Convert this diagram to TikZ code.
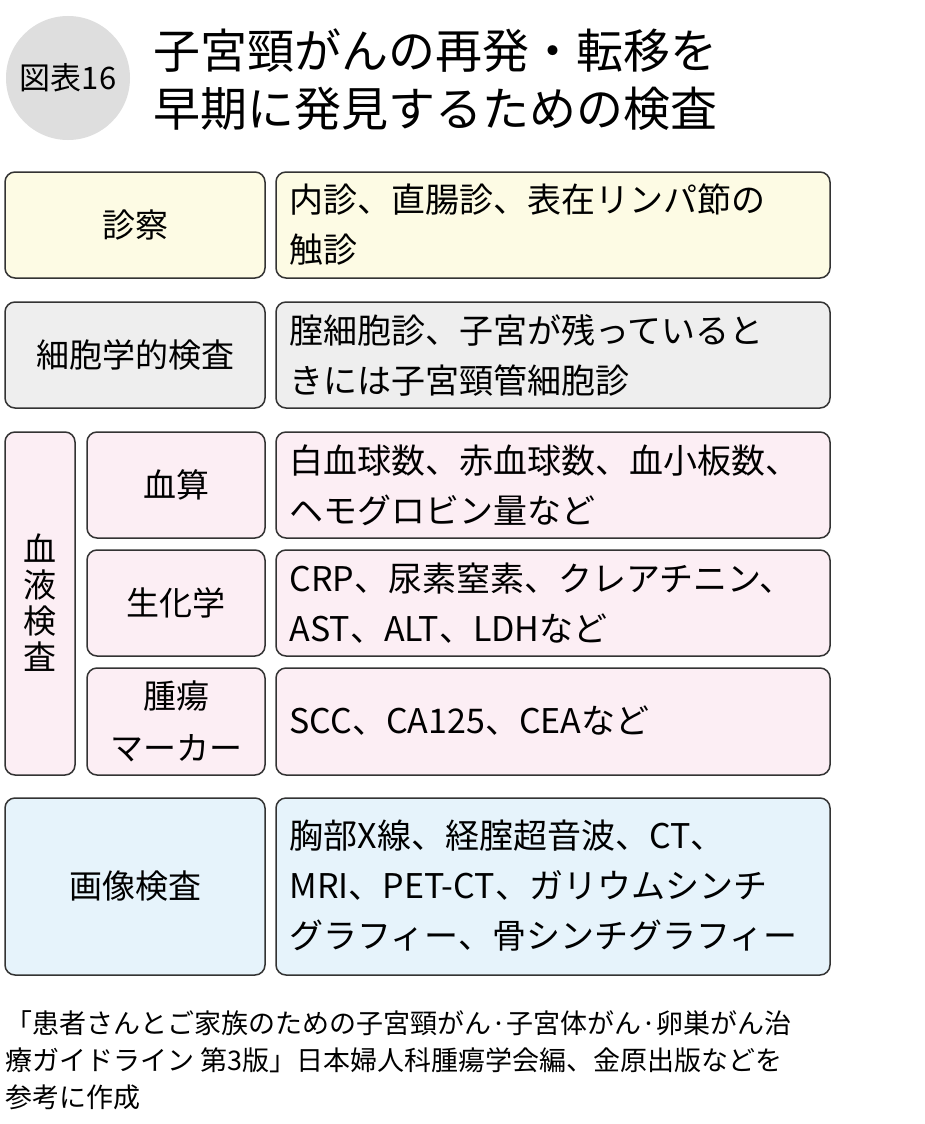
\documentclass[tikz,border=0pt]{standalone}
\usepackage{fontspec}
\setmainfont{Noto Sans CJK JP}
\begin{document}
\begin{tikzpicture}[x=1pt,y=-1pt,
  box/.style={draw=black!80,line width=1.5pt,rounded corners=10pt},
  ctext/.style={font=\fontsize{33}{40}\selectfont,align=center},
  rtext/.style={font=\fontsize{34}{50}\selectfont,align=left,anchor=west},
  foot/.style={font=\fontsize{27}{37}\selectfont,align=left,anchor=north west,inner sep=0}]
\useasboundingbox[fill=white] (0,0) rectangle (925,1124);
\fill[black!13] (68,78) circle (62);
\node[font=\fontsize{31}{30}\selectfont] (tag) at (68,78) {図表16};
\node[font=\fontsize{47}{58}\selectfont,align=left,anchor=west] (title) at (150,80) {子宮頸がんの再発・転移を\\早期に発見するための検査};
\definecolor{cy}{HTML}{FDFBE4}\definecolor{cg}{HTML}{EEEEEE}
\definecolor{cp}{HTML}{FCEEF4}\definecolor{cb}{HTML}{E6F3FB}
\draw[box,fill=cy] (5,172) rectangle (265,278);
\node[ctext] (a1) at (135,225) {診察};
\draw[box,fill=cy] (276,172) rectangle (830,278);
\node[rtext] (b1) at (286,225) {内診、直腸診、表在リンパ節の\\触診};
\draw[box,fill=cg] (5,302) rectangle (265,408);
\node[ctext] (a2) at (135,355) {細胞学的検査};
\draw[box,fill=cg] (276,302) rectangle (830,408);
\node[rtext] (b2) at (286,355) {腟細胞診、子宮が残っていると\\きには子宮頸管細胞診};
\draw[box,fill=cp] (5,432) rectangle (75,775);
\node[ctext,font=\fontsize{33}{36}\selectfont] (a3) at (40,603) {血\\液\\検\\査};
\draw[box,fill=cp] (87,432) rectangle (265,538);
\node[ctext] (c1) at (176,485) {血算};
\draw[box,fill=cp] (276,432) rectangle (830,538);
\node[rtext] (d1) at (286,485) {白血球数、赤血球数、血小板数、\\ヘモグロビン量など};
\draw[box,fill=cp] (87,550) rectangle (265,656);
\node[ctext] (c2) at (176,603) {生化学};
\draw[box,fill=cp] (276,550) rectangle (830,656);
\node[rtext] (d2) at (286,603) {CRP、尿素窒素、クレアチニン、\\AST、ALT、LDHなど};
\draw[box,fill=cp] (87,668) rectangle (265,775);
\node[ctext,font=\fontsize{33}{52}\selectfont] (c3) at (176,721) {腫瘍\\マーカー};
\draw[box,fill=cp] (276,668) rectangle (830,775);
\node[rtext] (d3) at (286,721) {SCC、CA125、CEAなど};
\draw[box,fill=cb] (5,798) rectangle (265,975);
\node[ctext] (a4) at (135,886) {画像検査};
\draw[box,fill=cb] (276,798) rectangle (830,975);
\node[rtext] (b4) at (286,886) {胸部X線、経腟超音波、CT、\\MRI、PET-CT、ガリウムシンチ\\グラフィー、骨シンチグラフィー};
\node[foot] (f) at (5,1010) {「患者さんとご家族のための子宮頸がん·子宮体がん·卵巣がん治\\療ガイドライン 第3版」日本婦人科腫瘍学会編、金原出版などを\\参考に作成};
\end{tikzpicture}
\end{document}
